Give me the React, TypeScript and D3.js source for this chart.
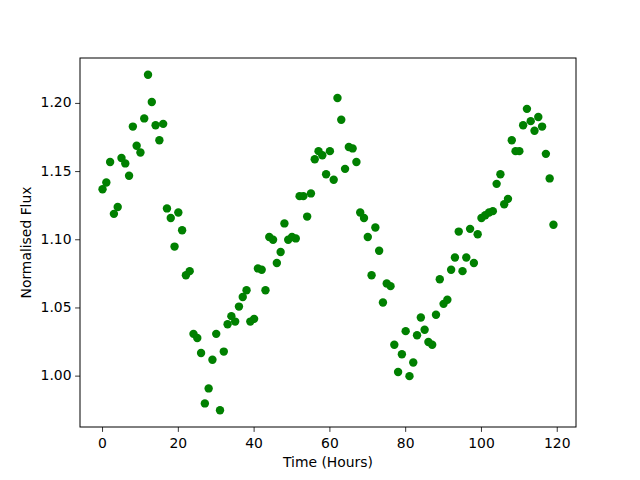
import React from 'react';
import * as d3 from 'd3';

// hours 0..119, one reading per hour
const hours: number[] = d3.range(0, 120);

const flux: number[] = [
  1.137, 1.142, 1.157, 1.119, 1.124, 1.160, 1.156, 1.147, 1.183, 1.169,
  1.164, 1.189, 1.221, 1.201, 1.184, 1.173, 1.185, 1.123, 1.116, 1.095,
  1.120, 1.107, 1.074, 1.077, 1.031, 1.028, 1.017, 0.980, 0.991, 1.012,
  1.031, 0.975, 1.018, 1.038, 1.044, 1.040, 1.051, 1.058, 1.063, 1.040,
  1.042, 1.079, 1.078, 1.063, 1.102, 1.100, 1.083, 1.091, 1.112, 1.100,
  1.102, 1.101, 1.132, 1.132, 1.117, 1.134, 1.159, 1.165, 1.162, 1.148,
  1.165, 1.144, 1.204, 1.188, 1.152, 1.168, 1.167, 1.157, 1.120, 1.116,
  1.102, 1.074, 1.109, 1.092, 1.054, 1.068, 1.066, 1.023, 1.003, 1.016,
  1.033, 1.000, 1.010, 1.030, 1.043, 1.034, 1.025, 1.023, 1.045, 1.071,
  1.053, 1.056, 1.078, 1.087, 1.106, 1.077, 1.087, 1.108, 1.083, 1.104,
  1.116, 1.118, 1.120, 1.121, 1.141, 1.148, 1.126, 1.130, 1.173, 1.165,
  1.165, 1.184, 1.196, 1.187, 1.180, 1.190, 1.183, 1.163, 1.145, 1.111,
];

const xTicks = [0, 20, 40, 60, 80, 100, 120];
const yTicks = [1.0, 1.05, 1.1, 1.15, 1.2];

const width = 640;
const height = 480;
const margin = { top: 58, right: 64, bottom: 53, left: 80 };

export default function App() {
  const font = 'DejaVu Sans, sans-serif';
  const fs = 13.9; // 10pt at 100dpi
  const left = margin.left;
  const right = width - margin.right;
  const top = margin.top;
  const bottom = height - margin.bottom;

  // matplotlib-ish 5% padding on both axes
  const xExt = d3.extent(hours) as [number, number];
  const xPad = (xExt[1] - xExt[0]) * 0.05;
  const yExt = d3.extent(flux) as [number, number];
  const yPad = (yExt[1] - yExt[0]) * 0.05;

  const x = d3.scaleLinear().domain([xExt[0] - xPad, xExt[1] + xPad]).range([left, right]);
  const y = d3.scaleLinear().domain([yExt[0] - yPad, yExt[1] + yPad]).range([bottom, top]);

  return (
    <div style={{ position: 'fixed', left: 0, top: 0 }}>
      <svg width={width} height={height} style={{ display: 'block', background: '#fff' }}>
        <rect x={0} y={0} width={width} height={height} fill="#fff" />

        {hours.map((h, i) => (
          <circle key={h} cx={x(h)} cy={y(flux[i])} r={4.2} fill="#008000" />
        ))}

        {/* frame */}
        <rect x={left} y={top} width={right - left} height={bottom - top}
          fill="none" stroke="#000" strokeWidth={1} />

        {/* x axis */}
        {xTicks.map(t => (
          <g key={t} transform={`translate(${x(t)},${bottom})`}>
            <line y1={0} y2={4.9} stroke="#000" strokeWidth={0.8} />
            <text y={16.5} textAnchor="middle" fontFamily={font} fontSize={fs}
              fill="#000" dominantBaseline="middle">{t}</text>
          </g>
        ))}
        <text x={(left + right) / 2} y={463} textAnchor="middle" dominantBaseline="middle"
          fontFamily={font} fontSize={fs}>Time (Hours)</text>

        {/* y axis */}
        {yTicks.map(t => (
          <g key={t} transform={`translate(${left},${y(t)})`}>
            <line x1={0} x2={-4.9} stroke="#000" strokeWidth={0.8} />
            <text x={-8.5} textAnchor="end" dominantBaseline="middle" fontFamily={font}
              fontSize={fs} fill="#000">{d3.format('.2f')(t)}</text>
          </g>
        ))}
        <text transform={`translate(27,${(top + bottom) / 2}) rotate(-90)`} textAnchor="middle"
          dominantBaseline="middle" fontFamily={font} fontSize={fs}>Normalised Flux</text>
      </svg>
    </div>
  );
}
